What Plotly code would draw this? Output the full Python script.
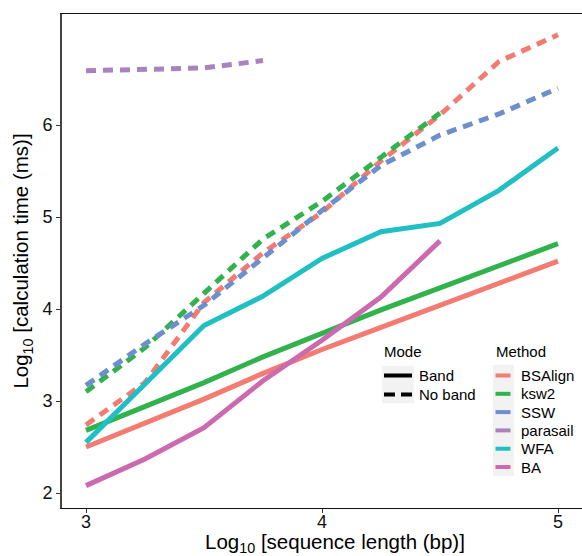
import plotly.graph_objects as go

# log10 sequence length (bp)
seq_len = [3, 3.25, 3.5, 3.75, 4, 4.25, 4.5, 4.75, 5]

methods = ["BSAlign", "ksw2", "SSW", "parasail", "WFA", "BA"]
colors = {
    "BSAlign": "#F37B71",
    "ksw2": "#31B24C",
    "SSW": "#6D8FCE",
    "parasail": "#A982BF",
    "WFA": "#20BFC3",
    "BA": "#CC6AB0",
}

# log10 calculation time (ms), banded alignment
band = {
    "BSAlign": [2.50, 2.76, 3.02, 3.30, 3.56, 3.80, 4.04, 4.28, 4.52],
    "ksw2": [2.68, 2.94, 3.20, 3.48, 3.74, 3.99, 4.23, 4.47, 4.71],
    "WFA": [2.55, 3.18, 3.82, 4.14, 4.55, 4.84, 4.93, 5.29, 5.75],
    "BA": [2.08, 2.37, 2.71, 3.22, 3.66, 4.13, 4.74, None, None],
}

# log10 calculation time (ms), no band
no_band = {
    "BSAlign": [2.74, 3.20, 4.07, 4.61, 5.05, 5.61, 6.11, 6.69, 6.98],
    "ksw2": [3.10, 3.58, 4.17, 4.76, 5.17, 5.65, 6.13, None, None],
    "SSW": [3.17, 3.62, 4.04, 4.55, 5.07, 5.56, 5.89, 6.12, 6.40],
    "parasail": [6.59, 6.60, 6.62, 6.70, None, None, None, None, None],
}

mode_labels = ["Band", "No band"]

W, H = 582, 556
ML, MR, MT, MB = 62, 0, 14, 48
PW, PH = W - ML - MR, H - MT - MB
FONT = "Liberation Sans, Arial, Helvetica, sans-serif"
DASH = "10px,7px"
TITLE_SIZE = 20.5

fig = go.Figure()

for m in methods:
    if m in no_band:
        fig.add_trace(go.Scatter(
            x=seq_len, y=no_band[m], mode="lines", name=m,
            line=dict(color=colors[m], width=5, dash=DASH),
            showlegend=False, connectgaps=False,
        ))
for m in methods:
    if m in band:
        fig.add_trace(go.Scatter(
            x=seq_len, y=band[m], mode="lines", name=m,
            line=dict(color=colors[m], width=5),
            showlegend=False, connectgaps=False,
        ))


def px_x(px):
    return (px - ML) / PW


def px_y(py):
    return (H - MB - py) / PH


shapes = []
annotations = []

# x-axis title (the panel runs past the right edge, so the title sits right of centre)
annotations.append(dict(text="Log<sub>10</sub> [sequence length (bp)]",
                        x=px_x(335), y=px_y(542.5), xref="paper", yref="paper",
                        xanchor="center", yanchor="middle", showarrow=False, borderpad=0,
                        font=dict(size=TITLE_SIZE, color="#000", family=FONT)))

# legend: Mode
annotations.append(dict(text="Mode", x=px_x(382), y=px_y(351), xref="paper", yref="paper",
                        xanchor="left", yanchor="middle", showarrow=False,
                        font=dict(size=15, color="#000", family=FONT)))
shapes.append(dict(type="rect", xref="paper", yref="paper", x0=px_x(382), x1=px_x(414),
                   y0=px_y(366), y1=px_y(403), fillcolor="#F2F2F2", line=dict(width=0), layer="above"))
for i, lab in enumerate(mode_labels):
    cy = 375.5 + i * 19
    shapes.append(dict(type="line", xref="paper", yref="paper", x0=px_x(384), x1=px_x(412),
                       y0=px_y(cy), y1=px_y(cy), layer="above",
                       line=dict(color="#000", width=4, dash="solid" if i == 0 else "11px,6px")))
    annotations.append(dict(text=lab, x=px_x(417), y=px_y(cy), xref="paper", yref="paper",
                            xanchor="left", yanchor="middle", showarrow=False,
                            font=dict(size=15, color="#000", family=FONT)))

# legend: Method
annotations.append(dict(text="Method", x=px_x(494), y=px_y(351), xref="paper", yref="paper",
                        xanchor="left", yanchor="middle", showarrow=False,
                        font=dict(size=15, color="#000", family=FONT)))
shapes.append(dict(type="rect", xref="paper", yref="paper", x0=px_x(493), x1=px_x(514),
                   y0=px_y(365), y1=px_y(476), fillcolor="#F2F2F2", line=dict(width=0), layer="above"))
for i, m in enumerate(methods):
    cy = 375.5 + i * 18.3
    shapes.append(dict(type="line", xref="paper", yref="paper", x0=px_x(495.5), x1=px_x(510.5),
                       y0=px_y(cy), y1=px_y(cy), layer="above",
                       line=dict(color=colors[m], width=4)))
    annotations.append(dict(text=m, x=px_x(519), y=px_y(cy), xref="paper", yref="paper",
                            xanchor="left", yanchor="middle", showarrow=False,
                            font=dict(size=15, color="#000", family=FONT)))

fig.update_layout(
    width=W, height=H,
    margin=dict(l=ML, r=MR, t=MT, b=MB, pad=0),
    plot_bgcolor="white", paper_bgcolor="white",
    font=dict(family=FONT, color="#000"),
    showlegend=False,
    shapes=shapes,
    annotations=annotations,
    xaxis=dict(
        range=[3 - 24 / 236, 3 + (W - ML - 24) / 236],
        tickvals=[3, 4, 5], ticktext=["3", "4", "5"],
        ticks="outside", ticklen=4, tickwidth=1, tickcolor="#333",
        ticklabelstandoff=-7,
        showgrid=False, zeroline=False,
        showline=True, linecolor="#111", linewidth=1.3, mirror=True,
        tickfont=dict(size=18, color="#111"),
    ),
    yaxis=dict(
        range=[2 - 15 / 92, 2 + (PH - 15) / 92],
        tickvals=[2, 3, 4, 5, 6], ticktext=["2", "3", "4", "5", "6"],
        ticks="outside", ticklen=4, tickwidth=1, tickcolor="#333",
        showgrid=False, zeroline=False,
        showline=True, linecolor="#444", linewidth=1.6, mirror=False,
        tickfont=dict(size=18, color="#111"),
        title=dict(text="Log<sub>10</sub> [calculation time (ms)]",
                   font=dict(size=TITLE_SIZE, color="#000"), standoff=8),
    ),
)

fig.write_html("out.html")
